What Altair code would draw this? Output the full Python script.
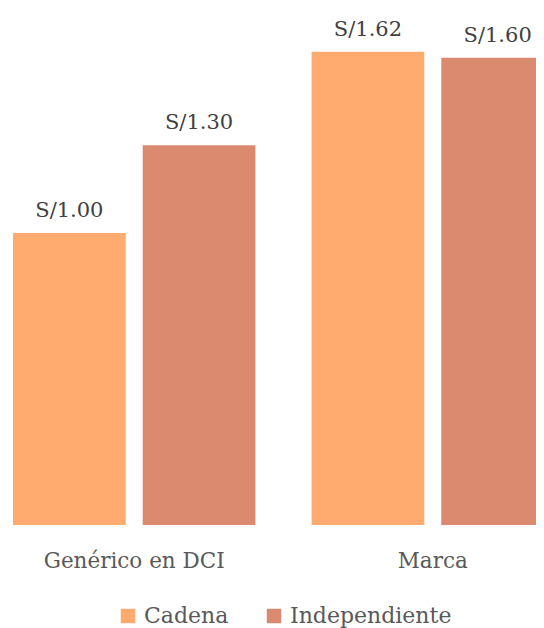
import altair as alt
import pandas as pd

categories = ["Genérico en DCI", "Genérico en DCI", "Marca", "Marca"]
series = ["Cadena", "Independiente", "Cadena", "Independiente"]
values = [1.00, 1.30, 1.62, 1.60]
labels = ["S/1.00", "S/1.30", "S/1.62", "S/1.60"]

df = pd.DataFrame({"cat": categories, "serie": series, "valor": values, "etiqueta": labels})

FONT = "DejaVu Serif"

x = alt.X("cat:N", sort=["Genérico en DCI", "Marca"], title=None,
          scale=alt.Scale(range=[5, 546], paddingInner=0.188, paddingOuter=0),
          axis=alt.Axis(labelAngle=0, domain=False, ticks=False, labelPadding=25,
                        labelFontSize=21.5, labelColor="#595959", labelFont=FONT,
                        labelFontWeight="normal", labelLimit=0))
xo = alt.XOffset("serie:N", sort=["Cadena", "Independiente"],
                 scale=alt.Scale(paddingInner=0.131, paddingOuter=0))
y = alt.Y("valor:Q", scale=alt.Scale(domain=[0, 1.77], nice=False, zero=True), axis=None)

color = alt.Color("serie:N", sort=["Cadena", "Independiente"],
                  scale=alt.Scale(domain=["Cadena", "Independiente"], range=["#FFAA6F", "#DB8A70"]),
                  legend=alt.Legend(title=None, orient="none", legendX=109, legendY=597,
                                    direction="horizontal",
                                    symbolType="square", symbolSize=210, symbolStrokeWidth=0,
                                    symbolOpacity=1, labelLimit=0,
                                    labelFontSize=22, labelColor="#595959", labelFont=FONT,
                                    labelOffset=5, columnPadding=34))

bars = alt.Chart(df).mark_bar(clip=True).encode(x=x, xOffset=xo, y=y, color=color)
text = alt.Chart(df).mark_text(dy=-16, baseline="alphabetic", fontSize=21, color="#404040", font=FONT).encode(
    x=x, xOffset=xo, y=y, text="etiqueta:N")

chart = (bars + text).properties(
    width=528, height=517,
    autosize=alt.AutoSizeParams(type="none"),
    padding={"left": 0, "top": 0, "right": 0, "bottom": 103},
).configure_view(stroke=None)

chart.save("out.html", embed_options={"renderer": "svg", "actions": False})
